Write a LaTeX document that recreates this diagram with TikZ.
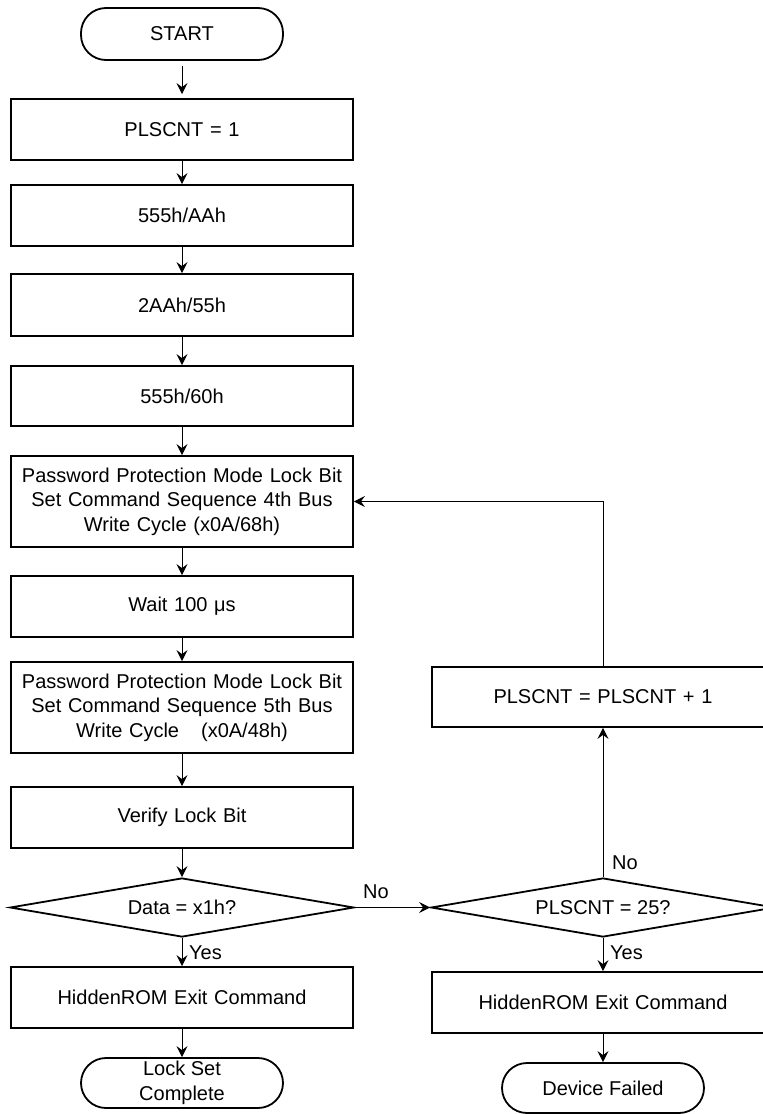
\documentclass[tikz,border=0pt]{standalone}
\usepackage{fontspec}
\setmainfont{Liberation Sans}
\usetikzlibrary{arrows.meta,shapes.geometric}
\begin{document}
\begin{tikzpicture}[x=1pt,y=-1pt,
  font=\fontsize{20}{24.5}\selectfont,
  box/.style={draw,line width=1.8pt,rectangle,inner sep=0pt,minimum width=342pt,align=center,text width=330pt},
  term/.style={draw,line width=1.8pt,rectangle,inner sep=0pt,minimum width=202pt,align=center,rounded corners=25pt},
  dec/.style={draw,line width=1.8pt,diamond,inner sep=0pt,aspect=5.83,minimum width=344pt,minimum height=59pt},
  conn/.style={line width=1pt,-{Stealth[length=11pt,width=11pt,inset=4pt]}},
  lbl/.style={inner sep=0pt,anchor=west}]
\clip (0,0) rectangle (763,1114);
\fill[white] (0,0) rectangle (763,1114);
% left column
\node[term,minimum height=52pt] (start) at (182,34) {START};
\node[box,minimum height=61pt] (b1) at (182,129.5) {PLSCNT = 1};
\node[box,minimum height=61pt] (b2) at (182,215.5) {555h/AAh};
\node[box,minimum height=62pt] (b3) at (182,305) {2AAh/55h};
\node[box,minimum height=60pt] (b4) at (182,396) {555h/60h};
\node[box,minimum height=91pt] (b5) at (182,501.5) {Password Protection Mode Lock Bit\\Set Command Sequence 4th Bus\\Write Cycle (x0A/68h)};
\node[box,minimum height=61pt] (b6) at (182,606.5) {Wait 100 μs};
\node[box,minimum height=91pt] (b7) at (182,707.5) {Password Protection Mode Lock Bit\\Set Command Sequence 5th Bus\\Write Cycle\hspace{22pt}(x0A/48h)};
\node[box,minimum height=61pt] (b8) at (182,817.5) {Verify Lock Bit};
\node[dec] (d1) at (182,907.5) {Data = x1h?};
\node[box,minimum height=61pt] (b9) at (182,997.5) {HiddenROM Exit Command};
\node[term,minimum height=50pt] (end1) at (182,1083) {Lock Set\\Complete};
% right column
\node[box,minimum height=60pt] (r1) at (603,697) {PLSCNT = PLSCNT + 1};
\node[dec] (d2) at (603,907.5) {PLSCNT = 25?};
\node[box,minimum height=61pt] (r2) at (603,1002.5) {HiddenROM Exit Command};
\node[term,minimum height=50pt] (end2) at (603,1088) {Device Failed};
\coordinate (loop) at (603,501.5);
% connectors
\draw[conn,shorten <=5pt,shorten >=4pt] (start) -- (b1);
\draw[conn] (b1) -- (b2);
\draw[conn] (b2) -- (b3);
\draw[conn] (b3) -- (b4);
\draw[conn] (b4) -- (b5);
\draw[conn] (b5) -- (b6);
\draw[conn] (b6) -- (b7);
\draw[conn] (b7) -- (b8);
\draw[conn] (b8) -- (d1);
\draw[conn] (d1) -- (b9);
\draw[conn] (b9) -- (end1);
\draw[conn] (d1.east) -- (d2.west);
\draw[conn] (d2) -- (r1);
\draw[conn] (r1.north) -- (loop) -- (b5.east);
\draw[conn] (d2) -- (r2);
\draw[conn] (r2) -- (end2);
% labels
\node[lbl] (ly1) at (189,953) {Yes};
\node[lbl] (ln1) at (363,892) {No};
\node[lbl] (ly2) at (610,953) {Yes};
\node[lbl] (ln2) at (612,863) {No};
\end{tikzpicture}
\end{document}
